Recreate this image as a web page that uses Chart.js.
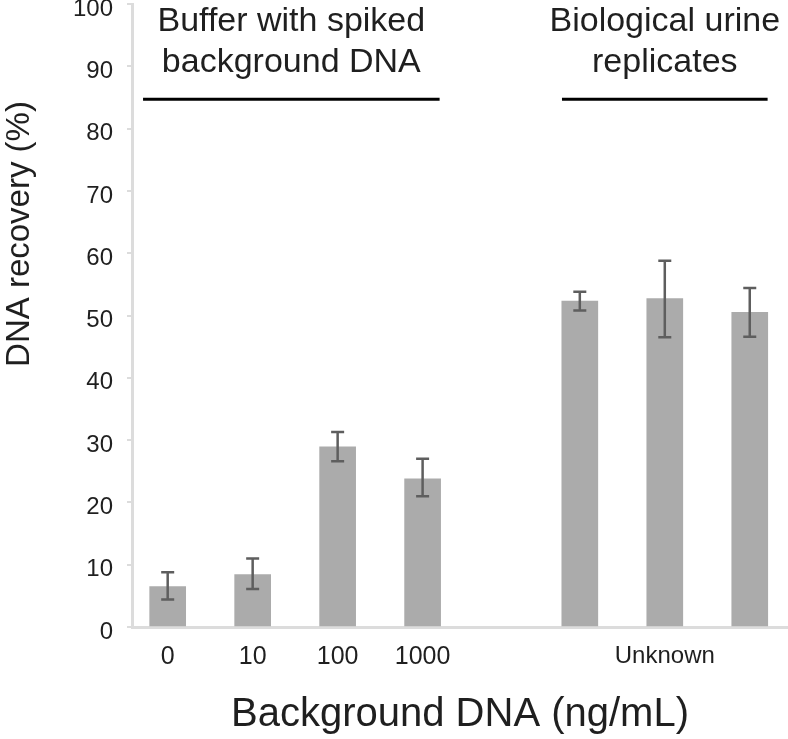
<!DOCTYPE html>
<html lang="en">
<head>
<meta charset="UTF-8">
<title>DNA recovery</title>
<script src="https://cdn.jsdelivr.net/npm/chart.js"></script>
<style>
  body { margin: 0; background: #fff; }
  .chart-box { width: 788px; height: 739px; position: relative; }
</style>
</head>
<body>
<div class="chart-box">
  <canvas id="recoveryChart"></canvas>
</div>

<script>
// data
var categorias = ['0', '10', '100', '1000', 'Unknown', 'Unknown', 'Unknown'];
var xTickLabels = ['0', '10', '100', '1000', '', 'Unknown', ''];
var xPositions = [0, 1, 2, 3, 4.85, 5.85, 6.85];
var recovery = [6.5, 8.4, 28.9, 23.8, 52.3, 52.7, 50.5];
var errHigh = [8.8, 11.0, 31.3, 27.0, 53.8, 58.8, 54.4];
var errLow = [4.4, 6.1, 26.6, 21.0, 50.8, 46.5, 46.6];
var yTicks = [0, 10, 20, 30, 40, 50, 60, 70, 80, 90, 100];

var groupLines = [['Buffer with spiked', 'background DNA'], ['Biological urine', 'replicates']];
var groupSpan = [[-0.29, 3.2], [4.64, 7.06]];

var fonte = "'Liberation Sans', Arial, sans-serif";
var corTexto = '#1f1f1f';
var corEixo = '#dcdcdc';

// error bars
const errorBars = {
  id: 'errorBars',
  afterDatasetsDraw(chart) {
    const ctx = chart.ctx;
    const y = chart.scales.y;
    const meta = chart.getDatasetMeta(0);
    ctx.save();
    ctx.strokeStyle = '#5e5e5e';
    ctx.lineWidth = 2.5;
    meta.data.forEach(function (bar, i) {
      var yHi = y.getPixelForValue(errHigh[i]);
      var yLo = y.getPixelForValue(errLow[i]);
      ctx.beginPath();
      ctx.moveTo(bar.x, yHi);
      ctx.lineTo(bar.x, yLo);
      ctx.moveTo(bar.x - 6.5, yHi);
      ctx.lineTo(bar.x + 6.5, yHi);
      ctx.moveTo(bar.x - 6.5, yLo);
      ctx.lineTo(bar.x + 6.5, yLo);
      ctx.stroke();
    });
    ctx.restore();
  }
};

// group headers + y title
const extras = {
  id: 'extras',
  afterDraw(chart) {
    const ctx = chart.ctx;
    const x = chart.scales.x;
    const y = chart.scales.y;
    ctx.save();
    ctx.fillStyle = corTexto;
    ctx.strokeStyle = '#000';
    ctx.font = '34px ' + fonte;
    ctx.textAlign = 'center';
    ctx.textBaseline = 'alphabetic';
    for (var g = 0; g < groupLines.length; g++) {
      var x0 = x.getPixelForValue(groupSpan[g][0]);
      var x1 = x.getPixelForValue(groupSpan[g][1]);
      var cx = (x0 + x1) / 2;
      ctx.fillText(groupLines[g][0], cx, y.getPixelForValue(95.6));
      ctx.fillText(groupLines[g][1], cx, y.getPixelForValue(89.1));
      var ly = y.getPixelForValue(84.7);
      ctx.lineWidth = 3;
      ctx.beginPath();
      ctx.moveTo(x0, ly);
      ctx.lineTo(x1, ly);
      ctx.stroke();
    }
    // y axis title, sits above the plot centre in the original
    ctx.translate(20, 234);
    ctx.rotate(-Math.PI / 2);
    ctx.font = '33px ' + fonte;
    ctx.textBaseline = 'middle';
    ctx.fillText('DNA recovery (%)', 0, 0);
    ctx.restore();
  }
};

new Chart(document.getElementById('recoveryChart'), {
  type: 'bar',
  data: {
    labels: categorias,
    datasets: [{
      label: 'DNA recovery',
      data: xPositions.map(function (v, i) { return { x: v, y: recovery[i] }; }),
      backgroundColor: '#ababab',
      borderWidth: 0,
      barThickness: 36
    }]
  },
  options: {
    responsive: true,
    maintainAspectRatio: false,
    animation: false,
    layout: { padding: { top: 4, right: 0, left: 0, bottom: 0 } },
    plugins: {
      legend: { display: false },
      tooltip: { enabled: false }
    },
    scales: {
      x: {
        type: 'linear',
        offset: false,
        min: -0.42,
        max: 7.3,
        afterBuildTicks: function (scale) {
          scale.ticks = xPositions.map(function (v) { return { value: v }; });
        },
        afterFit: function (scale) {
          scale.height = 112;
          scale.paddingLeft = 0;
          scale.paddingRight = 0;
        },
        grid: { display: false, drawTicks: false },
        border: { display: true, color: corEixo, width: 3 },
        ticks: {
          autoSkip: false,
          maxRotation: 0,
          padding: 15,
          color: corTexto,
          font: function (c) {
            return { family: fonte, size: c.index === 5 ? 24 : 25 };
          },
          callback: function (value, index) { return xTickLabels[index]; }
        },
        title: {
          display: true,
          text: 'Background DNA (ng/mL)',
          color: corTexto,
          font: { family: fonte, size: 40 },
          padding: { top: 0, bottom: 0 }
        }
      },
      y: {
        min: 0,
        max: 100,
        afterBuildTicks: function (scale) {
          scale.ticks = yTicks.map(function (v) { return { value: v }; });
        },
        afterFit: function (scale) {
          scale.width = 132;
          scale.paddingTop = 0;
          scale.paddingBottom = 0;
        },
        grid: {
          display: true,
          drawOnChartArea: false,
          drawTicks: true,
          tickLength: 5,
          color: corEixo,
          lineWidth: 2
        },
        border: { display: true, color: corEixo, width: 3 },
        ticks: {
          padding: 14,
          labelOffset: 5,
          color: corTexto,
          font: { family: fonte, size: 24 }
        }
      }
    }
  },
  plugins: [errorBars, extras]
});
</script>
</body>
</html>
